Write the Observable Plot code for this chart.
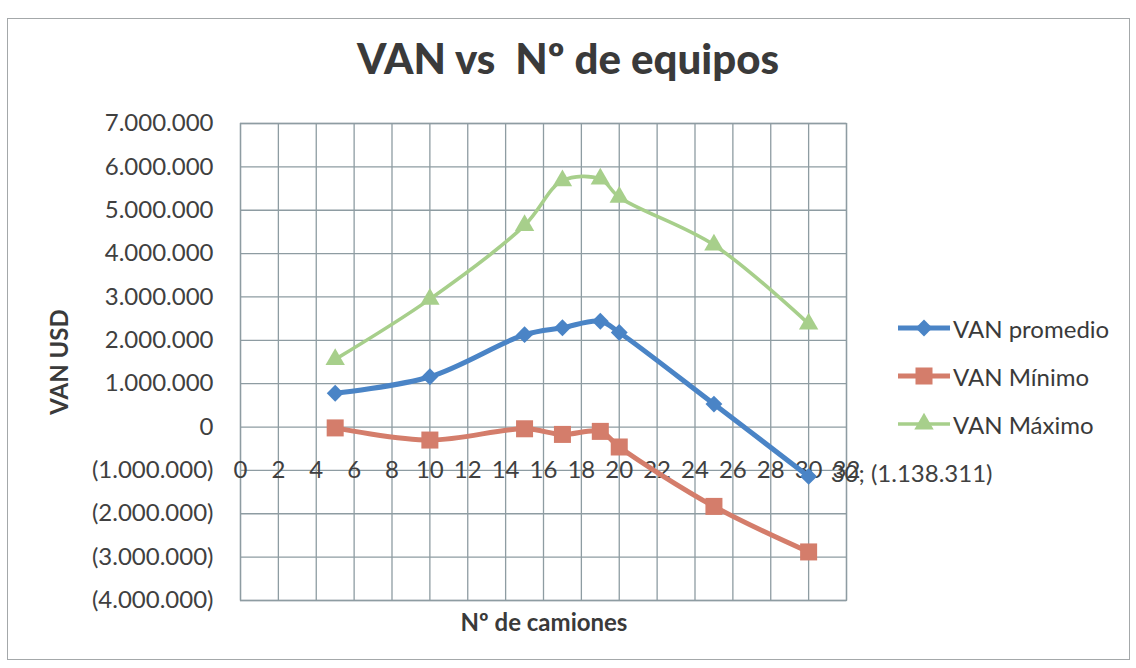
<!DOCTYPE html>
<html><head><meta charset="utf-8">
<script src="https://cdn.jsdelivr.net/npm/d3@7"></script>
<script src="https://cdn.jsdelivr.net/npm/@observablehq/plot@0.6"></script>
<style>
body{margin:0;background:#fff;font-family:Lato,"Open Sans",sans-serif;color:#404040}
#wrap{position:relative;width:1136px;height:668px;overflow:hidden;background:#fff}
#border{position:absolute;left:7px;top:18px;width:1121px;height:640px;border:1.5px solid #a4a8aa}
#title{position:absolute;left:0;width:1136px;top:33px;text-align:center;font-weight:900;font-size:42px;color:#3a3a3a}
#ytitle{position:absolute;left:58px;top:362px;transform:translate(-50%,-50%) rotate(-90deg);font-weight:bold;font-size:24px;white-space:nowrap;color:#3a3a3a}
#xtitle{position:absolute;left:544px;top:621px;transform:translate(-50%,-50%);font-weight:bold;font-size:24px;white-space:nowrap;color:#3a3a3a}
#legend{position:absolute;left:896px;top:304px}
.item{display:flex;align-items:center;height:48px;font-size:24px;color:#3a3a3a}
.item svg{margin-right:1px}
#chart{position:absolute;left:0;top:0}
</style></head><body>
<div id="wrap">
 <div id="border"></div>
 <div id="title"></div>
 <div id="ytitle"></div>
 <div id="xtitle"></div>
 <div id="legend"></div>
 <div id="chart"></div>
</div>
<script>
// ---- data ----
const titleText = "VAN vs\u00a0 Nº de equipos";
const yTitle = "VAN USD";
const xTitle = "Nº de camiones";
const series = ["VAN promedio", "VAN Mínimo", "VAN Máximo"];
const camiones = [5, 10, 15, 17, 19, 20, 25, 30];
const vanPromedio = [780000, 1160000, 2130000, 2290000, 2440000, 2180000, 530000, -1138311];
const vanMinimo = [-20000, -300000, -40000, -170000, -100000, -460000, -1830000, -2880000];
const vanMaximo = [1560000, 2950000, 4650000, 5680000, 5720000, 5300000, 4200000, 2380000];
const xTicks = [0, 2, 4, 6, 8, 10, 12, 14, 16, 18, 20, 22, 24, 26, 28, 30, 32];
const yTicks = [-4000000, -3000000, -2000000, -1000000, 0, 1000000, 2000000, 3000000, 4000000, 5000000, 6000000, 7000000];
const xAxisAt = -1000000;

// ---- styles ----
const colors = ["#4a84c6", "#d47d6b", "#a7cf8b"];
const symbols = ["diamond2", "square", "triangle"];
const radii = [7.6, 9.6, 7.2];
const widths = [5, 5, 3.6];
const gridColor = "#8e9ca2";

const values = [vanPromedio, vanMinimo, vanMaximo];
const rows = series.flatMap((s, i) => camiones.map((c, j) => ({serie: s, x: c, y: values[i][j]})));

const fmt = v => {
  const s = d3.format(",")(Math.abs(v)).replace(/,/g, ".");
  return v < 0 ? `(${s})` : s;
};

document.getElementById("title").textContent = titleText;
document.getElementById("ytitle").textContent = yTitle;
document.getElementById("xtitle").textContent = xTitle;

const marks = [
  Plot.gridX(xTicks, {stroke: gridColor, strokeOpacity: 1, strokeWidth: 1.3}),
  Plot.gridY(yTicks, {stroke: gridColor, strokeOpacity: 1, strokeWidth: 1.3}),
  Plot.frame({stroke: gridColor, strokeWidth: 1.3}),
  Plot.axisY(yTicks, {tickSize: 0, tickPadding: 27, tickFormat: fmt, fontSize: 24, fill: "#404040", label: null}),
  Plot.text(xTicks, {x: d => d, y: () => xAxisAt, text: d => String(d), fontSize: 24, fill: "#404040"})
];
series.forEach((s, i) => {
  const data = rows.filter(r => r.serie === s);
  marks.push(Plot.line(data, {x: "x", y: "y", stroke: colors[i], strokeWidth: widths[i], curve: "catmull-rom"}));
  marks.push(Plot.dot(data, {x: "x", y: "y", symbol: () => symbols[i], fill: colors[i], r: radii[i]}));
});
const last = rows.filter(r => r.serie === series[0]).slice(-1);
marks.push(Plot.text(last, {x: "x", y: "y", text: d => `${d.x}; ${fmt(d.y)}`, textAnchor: "start", dx: 22, dy: -2, fontSize: 24, fill: "#404040"}));

const chart = Plot.plot({
  width: 1136, height: 668,
  marginLeft: 240, marginRight: 290, marginTop: 123, marginBottom: 68,
  x: {domain: [0, 32], axis: null},
  y: {domain: [-4000000, 7000000], axis: null},
  symbol: {type: "identity"},
  style: {fontFamily: "Lato, 'Open Sans', sans-serif", background: "transparent", color: "#404040"},
  marks
});
document.getElementById("chart").appendChild(chart);

// legend
const leg = document.getElementById("legend");
series.forEach((s, i) => {
  const item = document.createElement("div");
  item.className = "item";
  const svg = d3.create("svg").attr("width", 56).attr("height", 24);
  svg.append("line").attr("x1", 2).attr("x2", 54).attr("y1", 12).attr("y2", 12)
    .attr("stroke", colors[i]).attr("stroke-width", widths[i]);
  const sym = {diamond2: d3.symbolDiamond2, square: d3.symbolSquare, triangle: d3.symbolTriangle}[symbols[i]];
  svg.append("path").attr("transform", "translate(28,12)")
    .attr("d", d3.symbol(sym, Math.PI * radii[i] * radii[i])()).attr("fill", colors[i]);
  item.appendChild(svg.node());
  const t = document.createElement("span");
  t.textContent = s;
  item.appendChild(t);
  leg.appendChild(item);
});
</script>
</body></html>
